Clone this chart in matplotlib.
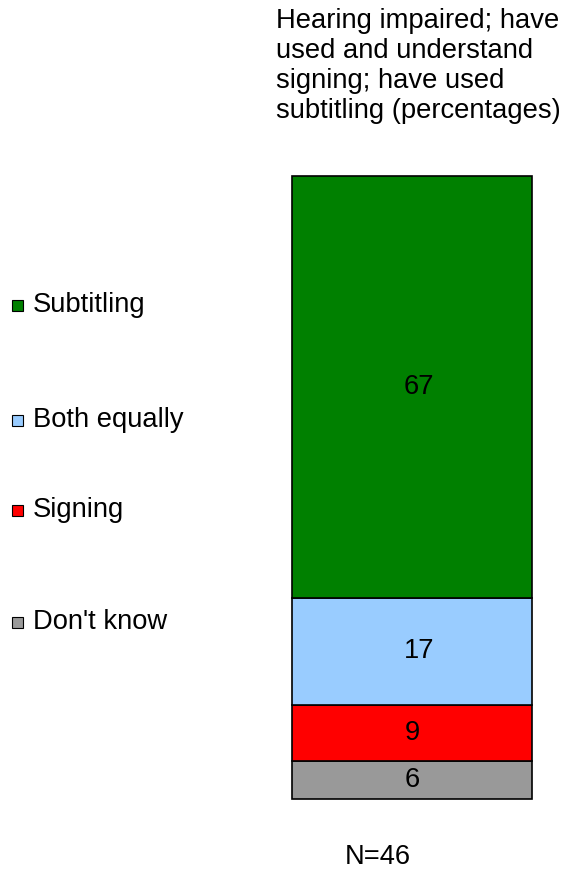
import matplotlib
matplotlib.use("Agg")
from matplotlib import pyplot as plt
from matplotlib.patches import Rectangle

plt.rcParams['font.family'] = ['Liberation Sans', 'DejaVu Sans']

# data, bottom to top
categories = ["Don't know", "Signing", "Both equally", "Subtitling"]
values = [6, 9, 17, 67]
colors = ['#999999', '#ff0000', '#99ccff', '#008000']
title = "Hearing impaired; have\nused and understand\nsigning; have used\nsubtitling (percentages)"
note = "N=46"

# legend rows (figure y, pixels from top), same order as categories
legend_y = [622, 510, 420, 305]

W, H = 565, 869
FS = 19.7
fig = plt.figure(figsize=(W / 100, H / 100), dpi=100)

ax = fig.add_axes([292 / W, (H - 799) / H, 240 / W, 623 / H])
bottom = 0
for cat, val, col in zip(categories, values, colors):
    ax.bar(0, val, width=1, bottom=bottom, color=col, edgecolor='black',
           linewidth=1.2, clip_on=False)
    ax.text(0.03 if val >= 10 else 0, bottom + val / 2, str(val),
            ha='center', va='center', fontsize=FS)
    bottom += val
ax.set_xlim(-0.5, 0.5)
ax.set_ylim(0, sum(values))
ax.axis('off')

fig.text(276 / W, 1 - 8 / H, title, ha='left', va='top', fontsize=FS, linespacing=1.2)
fig.text(378 / W, 1 - 857 / H, note, ha='center', va='center', fontsize=FS)

for cat, col, y in zip(categories, colors, legend_y):
    size = 11
    fig.patches.append(Rectangle((12 / W, (H - y - size / 2) / H), size / W, size / H,
                                 transform=fig.transFigure, facecolor=col,
                                 edgecolor='black', linewidth=0.8))
    fig.text(33 / W, 1 - y / H, cat, ha='left', va='center', fontsize=FS)

fig.savefig('out.png', dpi=100)
